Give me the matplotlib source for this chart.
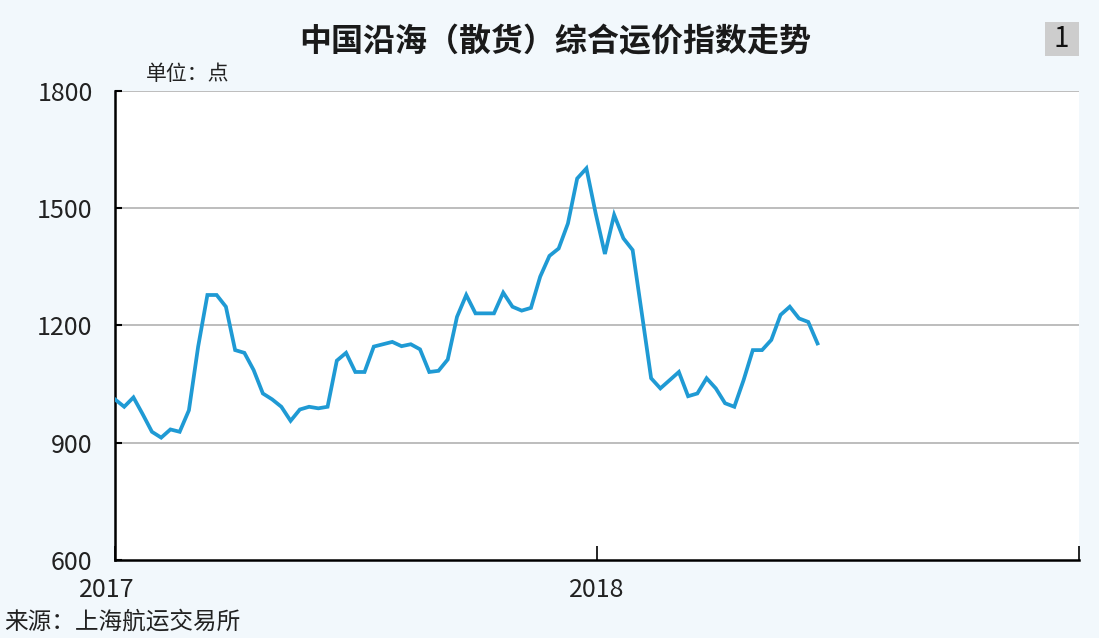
import numpy as np
import matplotlib
matplotlib.use("Agg")
import matplotlib.pyplot as plt
from matplotlib.patches import Rectangle
from matplotlib.transforms import ScaledTranslation

plt.rcParams["font.family"] = ["Noto Sans CJK SC", "DejaVu Sans"]

# ── data (weekly index) ───────────────────────────────────────────────────────
START_YEAR = 2017
WEEK = 7 / 365
index_values = [
    1011, 992, 1016, 973, 928, 913, 934, 928, 983, 1146,
    1278, 1278, 1248, 1137, 1130, 1086, 1026, 1011, 992, 956,
    985, 992, 988, 992, 1110, 1130, 1081, 1081, 1146, 1152,
    1158, 1147, 1152, 1139, 1081, 1084, 1113, 1222, 1278, 1231,
    1231, 1231, 1284, 1248, 1238, 1245, 1325, 1378, 1397, 1461,
    1576, 1602, 1487, 1383, 1483, 1423, 1393, 1230, 1065, 1039,
    1060, 1081, 1019, 1026, 1065, 1039, 1001, 992, 1060, 1137,
    1137, 1163, 1227, 1248, 1218, 1209, 1154,
]
y_ticks = [600, 900, 1200, 1500, 1800]
x_ticks = [2017, 2018, 2019]
x_labels = ["2017", "2018", ""]

TITLE = "中国沿海（散货）综合运价指数走势"
UNIT = "单位：点"
SOURCE = "来源：上海航运交易所"

BG = "#F2F8FC"
LINE = "#1F9AD4"

x = START_YEAR + np.arange(len(index_values)) * WEEK

fig = plt.figure(figsize=(10.99, 6.38), dpi=100, facecolor=BG)
ax = fig.add_axes([0.1046, 0.1223, 0.8772, 0.7351])
ax.set_facecolor("white")

ax.plot(x, index_values, color=LINE, lw=2.7, solid_joinstyle="miter", zorder=3)

ax.set_xlim(2017, 2019)
ax.set_ylim(600, 1800)
ax.set_yticks(y_ticks)
ax.set_xticks(x_ticks)
ax.set_xticklabels(x_labels)
ax.tick_params(axis="y", direction="in", length=5, width=1.5, labelsize=18,
               pad=16, colors="black", labelcolor="#222222")
ax.tick_params(axis="x", direction="in", length=10, width=1.2, labelsize=18,
               pad=12, labelcolor="#222222")
# first year label sits a little left of the axis corner
lbl0 = ax.xaxis.get_major_ticks()[0].label1
lbl0.set_transform(lbl0.get_transform() + ScaledTranslation(-0.08, 0, fig.dpi_scale_trans))

# gray grid lines (including the top line at 1800)
for v in y_ticks[1:]:
    ax.axhline(v, color="#BDBDBD", lw=1.4, zorder=1)

for s in ("top", "right"):
    ax.spines[s].set_visible(False)
ax.spines["left"].set_linewidth(1.8)
ax.spines["bottom"].set_linewidth(1.8)

# texts
fig.text(0.505, 0.933, TITLE, ha="center", va="center", fontsize=23,
         fontweight="bold", color="#1a1a1a")
fig.text(0.133, 0.884, UNIT, ha="left", va="center", fontsize=15, color="#222222")
fig.text(0.004, 0.025, SOURCE, ha="left", va="center", fontsize=17,
         color="#222222", style="italic")

# number badge top right
fig.patches.append(Rectangle((0.9505, 0.913), 0.031, 0.053, transform=fig.transFigure,
                             facecolor="#CDCDCD", edgecolor="none"))
fig.text(0.966, 0.939, "1", ha="center", va="center", fontsize=20, color="#111111")

fig.savefig("out.png", dpi=100, facecolor=BG)
